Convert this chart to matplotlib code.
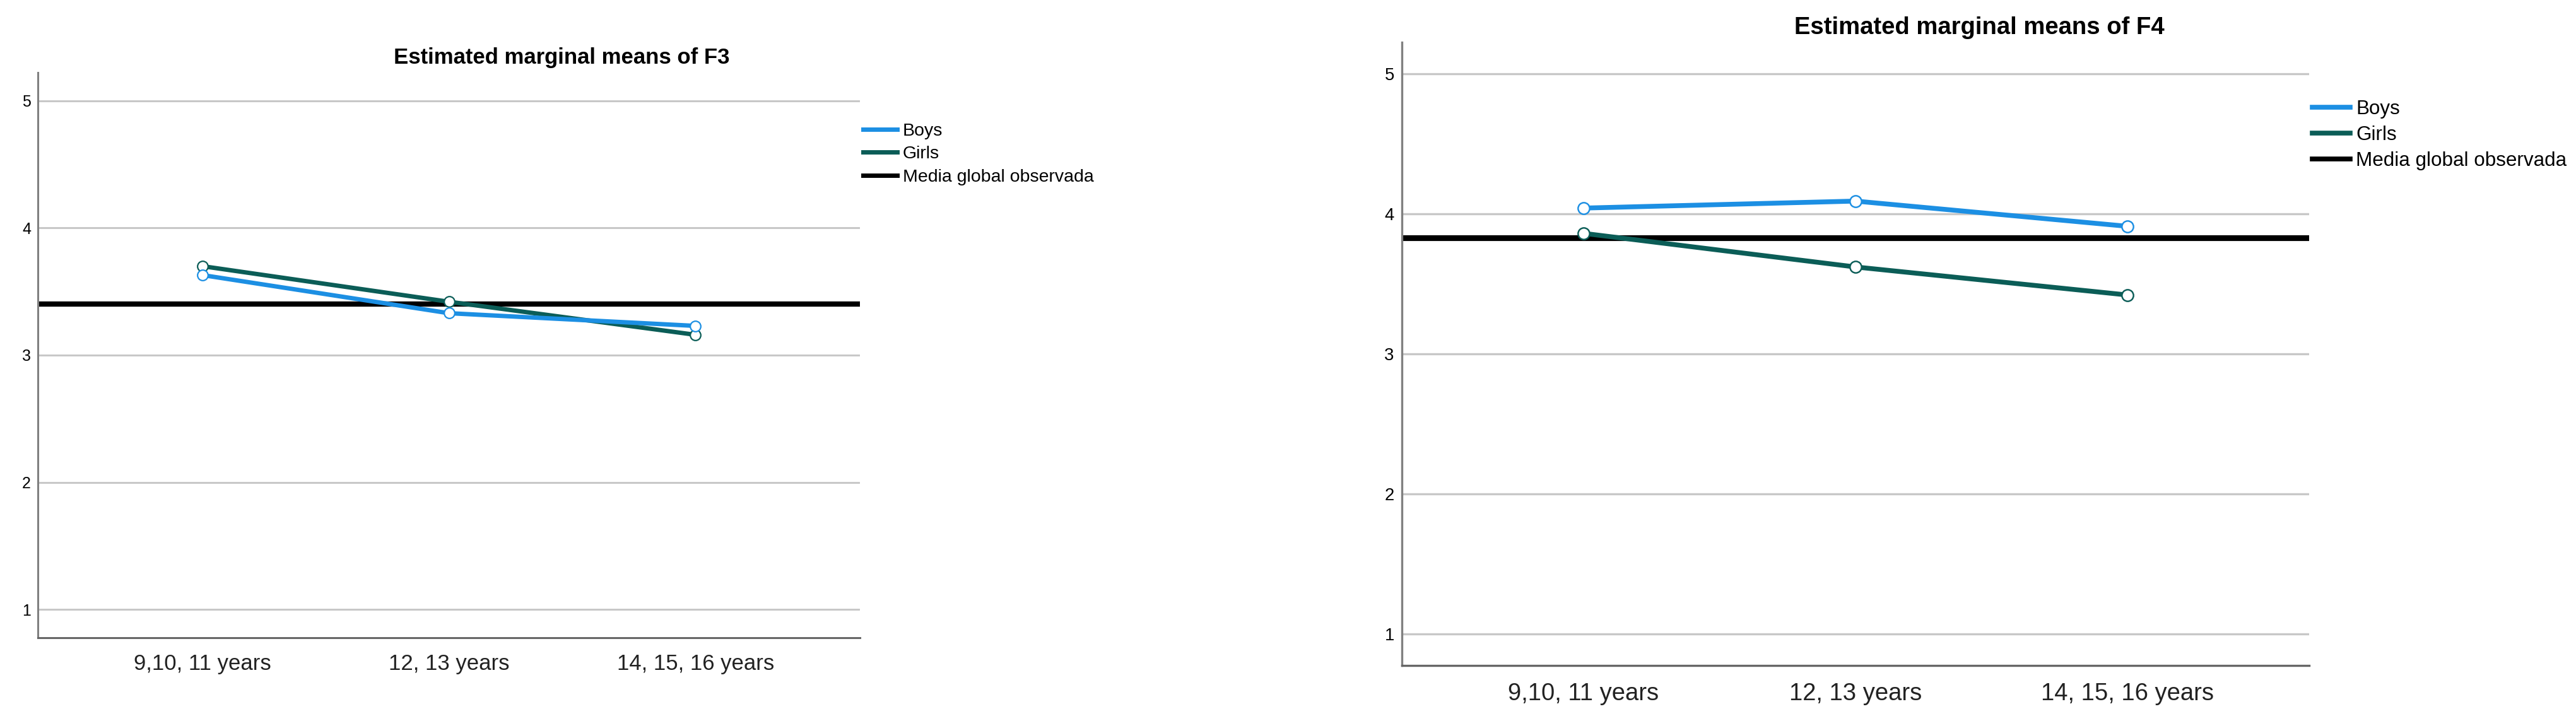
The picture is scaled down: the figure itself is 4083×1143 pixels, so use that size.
import numpy as np
import matplotlib
matplotlib.use('Agg')
import matplotlib.pyplot as plt

plt.rcParams['font.family'] = ['Liberation Sans', 'DejaVu Sans']

groups = ['9,10, 11 years', '12, 13 years', '14, 15, 16 years']
series_names = ['Boys', 'Girls']
mean_label = 'Media global observada'

f3_boys = [3.63, 3.33, 3.23]
f3_girls = [3.70, 3.42, 3.16]
f3_mean = 3.40

f4_boys = [4.04, 4.09, 3.91]
f4_girls = [3.86, 3.62, 3.42]
f4_mean = 3.83

y_ticks = [1, 2, 3, 4, 5]

BOYS_C = '#1C8FE3'
GIRLS_C = '#0B5D57'
W, H = 4083, 1143


def draw_panel(ax, boys, girls, mean, title, s, title_xy, leg_xy, lspace):
    x = np.arange(len(groups))
    ax.axhline(mean, color='black', lw=6.0 * s, zorder=2)
    ax.plot(x, boys, color=BOYS_C, lw=5.0 * s, marker='o', ms=12 * s,
            mfc='white', mec=BOYS_C, mew=1.6 * s, zorder=4, label=series_names[0])
    ax.plot(x, girls, color=GIRLS_C, lw=5.0 * s, marker='o', ms=12 * s,
            mfc='white', mec=GIRLS_C, mew=1.6 * s, zorder=3, label=series_names[1])
    ax.set_xlim(-2 / 3, 2 + 2 / 3)
    ax.set_ylim(0.777, 5.223)
    ax.set_yticks(y_ticks)
    ax.set_yticklabels([str(t) for t in y_ticks], fontsize=18 * s)
    ax.set_xticks(x)
    ax.set_xticklabels(groups, fontsize=25 * s, color='#222222')
    ax.tick_params(length=0)
    ax.tick_params(axis='y', pad=8 * s)
    ax.tick_params(axis='x', pad=18 * s)
    ax.grid(axis='y', color='#C8C8C8', lw=2.2 * s, zorder=1)
    ax.set_axisbelow(True)
    for side in ['top', 'right']:
        ax.spines[side].set_visible(False)
    ax.spines['left'].set_color('#808080')
    ax.spines['left'].set_linewidth(2.2 * s)
    ax.spines['bottom'].set_color('#666666')
    ax.spines['bottom'].set_linewidth(2.2 * s)

    handles = [plt.Line2D([], [], color=BOYS_C, lw=5 * s),
               plt.Line2D([], [], color=GIRLS_C, lw=5 * s),
               plt.Line2D([], [], color='black', lw=5 * s)]
    labels = series_names + [mean_label]
    fig.legend(handles, labels, loc='upper left',
               bbox_to_anchor=(leg_xy[0] / W, 1 - leg_xy[1] / H),
               frameon=False, fontsize=20.5 * s, handlelength=1.9,
               handletextpad=0.3, labelspacing=lspace, borderpad=0, borderaxespad=0)
    fig.text(title_xy[0] / W, 1 - title_xy[1] / H, title, ha='center', va='center',
             fontsize=25 * s, fontweight='bold')


fig = plt.figure(figsize=(W / 100, H / 100), dpi=100)

ax1 = fig.add_axes([60 / W, 1 - 1011 / H, (1363 - 60) / W, (1011 - 115) / H])
draw_panel(ax1, f3_boys, f3_girls, f3_mean, 'Estimated marginal means of F3', 1.0,
           (890, 91), (1368, 195), 0.36)

ax2 = fig.add_axes([2222 / W, 1 - 1055 / H, (3660 - 2222) / W, (1055 - 67) / H])
draw_panel(ax2, f4_boys, f4_girls, f4_mean, 'Estimated marginal means of F4', 1.1,
           (3137, 44), (3665, 158), 0.35)

fig.savefig('out.png', dpi=100)
